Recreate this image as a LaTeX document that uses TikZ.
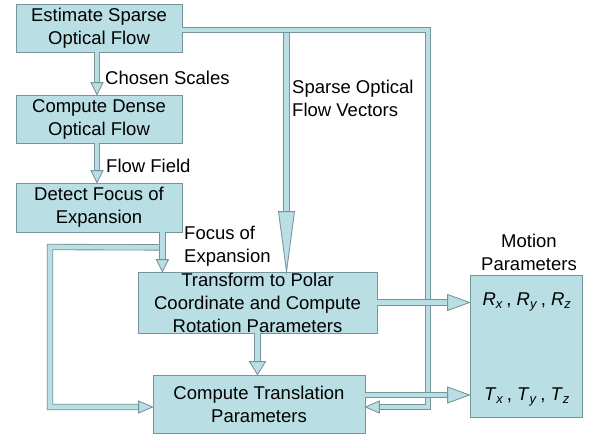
\documentclass[tikz,border=0pt]{standalone}
\usepackage{fontspec}
\setmainfont{Liberation Sans}
\usetikzlibrary{calc}
\definecolor{bfill}{RGB}{185,222,227}
\definecolor{bline}{RGB}{118,148,153}
\newcommand\fs{\fontsize{18.5}{23}\selectfont}
\newcommand\hdD[3]{\filldraw[headst] ($(#1)+(-#3,-#2)$) -- (#1) -- ($(#1)+(#3,-#2)$) -- cycle;}
\newcommand\hdR[3]{\filldraw[headst] ($(#1)+(-#2,-#3)$) -- (#1) -- ($(#1)+(-#2,#3)$) -- cycle;}
\newcommand\hdL[3]{\filldraw[headst] ($(#1)+(#2,-#3)$) -- (#1) -- ($(#1)+(#2,#3)$) -- cycle;}
\newcommand\ivar[2]{\textit{#1}\textsubscript{\textit{#2}}}
\begin{document}
\begin{tikzpicture}[x=1pt,y=-1pt,
  box/.style={draw=bline, fill=bfill, line width=0.8pt, align=center, inner sep=0pt, font=\fs},
  lbl/.style={inner sep=0pt, font=\fs},
  shaft/.style={draw=bline, line width=0.85pt, double=bfill, double distance=4.6pt},
  headst/.style={draw=bline, fill=bfill, line width=0.85pt, line join=miter}]
\useasboundingbox[fill=white] (0,0) rectangle (590,437);

% boxes
\node[box, minimum width=166pt, minimum height=48pt] (b1) at (99,28) {Estimate Sparse\\Optical Flow};
\node[box, minimum width=166pt, minimum height=48pt] (b2) at (99,119) {Compute Dense\\Optical Flow};
\node[box, minimum width=166pt, minimum height=49pt] (b3) at (99,207.5) {Detect Focus of\\Expansion};
\node[box, minimum width=239pt, minimum height=61pt] (tp) at (257.5,302.5) {Transform to Polar\\Coordinate and Compute\\Rotation Parameters};
\node[box, minimum width=212pt, minimum height=58pt] (tr) at (259,404) {Compute Translation\\Parameters};
\node[box, minimum width=112pt, minimum height=142pt] (mp) at (526,346) {};

% labels
\node[lbl, anchor=west] (l1) at (105,78) {Chosen Scales};
\node[lbl, anchor=west] (l2) at (106,166) {Flow Field};
\node[lbl, align=left, anchor=west] (l3) at (184,246.5) {Focus of\\Expansion};
\node[lbl, align=left, anchor=west] (l4) at (292,98.5) {Sparse Optical\\Flow Vectors};
\node[lbl, align=center] (l5) at (529,252) {Motion\\Parameters};
\node[lbl] (rv) at (527,302) {\ivar{R}{x}\,, \ivar{R}{y}\,, \ivar{R}{z}};
\node[lbl] (tv) at (527,397) {\ivar{T}{x}\,, \ivar{T}{y}\,, \ivar{T}{z}};

% b1 -> b2
\coordinate (a1s) at ([xshift=-2pt]b1.south);
\coordinate (a1t) at ([xshift=-2pt]b2.north);
\draw[shaft] (a1s) -- ($(a1t)+(0,-11.5)$);
\hdD{a1t}{12}{6}
% b2 -> b3
\coordinate (a2s) at ([xshift=-2pt]b2.south);
\coordinate (a2t) at ([xshift=-2pt]b3.north);
\draw[shaft] (a2s) -- ($(a2t)+(0,-11.5)$);
\hdD{a2t}{12}{6}

% left loop from focus arrow to translation box
\coordinate (fx) at ($(b3.south east)+(-20,0)$);
\coordinate (ft) at (tp.north -| fx);
\coordinate (lc1) at (50,247);
\coordinate (lc2) at (50,407);
\coordinate (lt) at ($(tr.west)+(0,3)$);
\draw[shaft] ($(fx)+(-3,15)$) -- (lc1) -- (lc2) -- ($(lt)+(-13.5,0)$);
\hdR{lt}{14}{6}
% b3 -> tp
\draw[shaft] (fx) -- ($(ft)+(0,-11.5)$);
\hdD{ft}{12}{6}

% top line and right feedback
\coordinate (s0) at ([yshift=-2pt]b1.east);
\coordinate (c1) at (428,30);
\coordinate (c2) at (428,407);
\coordinate (rt) at ($(tr.east)+(0,3)$);
\coordinate (bx) at (286.5,30);
\coordinate (bt) at (tp.north -| bx);
\draw[shaft] (bx) -- ($(bt)+(0,-59)$);
\draw[shaft] (s0) -- (c1) -- (c2) -- ($(rt)+(13.5,0)$);
\hdL{rt}{14}{6}
\hdD{bt}{60}{8}

% tp -> mp (rotation)
\coordinate (rs) at (tp.east);
\coordinate (re) at (mp.west |- rs);
\draw[shaft] (rs) -- ($(re)+(-21.5,0)$);
\hdR{re}{22}{8}
% tr -> mp (translation)
\coordinate (ts) at ($(tr.east)+(0,-9)$);
\coordinate (te) at (mp.west |- ts);
\draw[shaft] (ts) -- ($(te)+(-21.5,0)$);
\hdR{te}{22}{8}
% tp -> tr
\coordinate (ds) at (tp.south);
\coordinate (de) at (tr.north -| ds);
\draw[shaft] (ds) -- ($(de)+(0,-12.5)$);
\hdD{de}{13}{8}
\end{tikzpicture}
\end{document}
